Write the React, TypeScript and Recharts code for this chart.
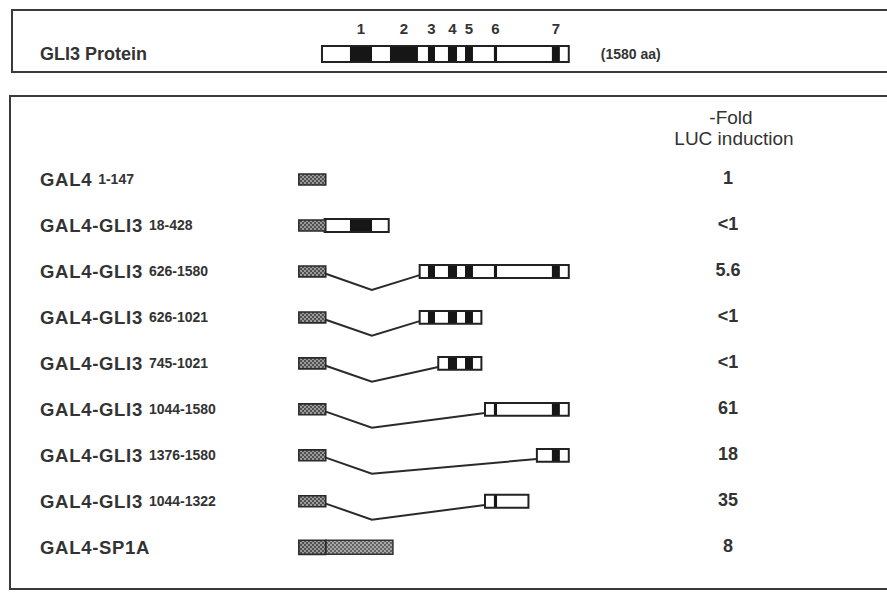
import React from "react";
import { ComposedChart, XAxis, YAxis, ReferenceArea, Line, Label, Scatter } from "recharts";

// GLI3 conserved domains (amino acids)
const domainNames = ["1", "2", "3", "4", "5", "6", "7"];
const domainStart = [180, 436, 679, 807, 916, 1101, 1472];
const domainEnd = [321, 615, 724, 865, 967, 1121, 1523];
const proteinLength = 1580;

// constructs, one per row
const constructNames = [
  "GAL4",
  "GAL4-GLI3",
  "GAL4-GLI3",
  "GAL4-GLI3",
  "GAL4-GLI3",
  "GAL4-GLI3",
  "GAL4-GLI3",
  "GAL4-GLI3",
  "GAL4-SP1A",
];
const constructRanges = ["1-147", "18-428", "626-1580", "626-1021", "745-1021", "1044-1580", "1376-1580", "1044-1322", ""];
const gliStart = [null, 18, 626, 626, 745, 1044, 1376, 1044, null];
const gliEnd = [null, 428, 1580, 1021, 1021, 1580, 1580, 1322, null];
const hasSp1 = [false, false, false, false, false, false, false, false, true];
const foldInduction = ["1", "<1", "5.6", "<1", "<1", "61", "18", "35", "8"];

// drawing units (same scale as GLI3 aa)
const GAL4_X = [-147, 25];
const SP1_END = 455;
const VERTEX_X = 320;
const X_DOMAIN = [-2059, 3616];
const Y_DOMAIN = [-3.905, 9.082];
const PROTEIN_ROW = -2.73;
const PROTEIN_H = 0.174;
const BOX_H = 0.14;

const W = 887;
const H = 597;
const ink = "#222";
const textCol = "#333";
const font = "'Liberation Sans', Arial, Helvetica, sans-serif";

const rows = constructNames.map((_, i) => i);
const labelPoints = rows.map((i) => ({ x: 0, y: i, row: i }));

const RowLabel = (props: any) => {
  const { cy, payload } = props;
  const i = payload.row;
  return (
    <g>
      <text x={40} y={cy} dy="0.36em" fontFamily={font} fontWeight="bold" fontSize={18.5} fill={textCol} letterSpacing={0.7}>
        {constructNames[i]}
        {constructRanges[i] && (
          <tspan dx={6} dy={-2} fontSize={14} letterSpacing={0}>
            {constructRanges[i]}
          </tspan>
        )}
      </text>
      <text x={728} y={cy - 2} dy="0.36em" textAnchor="middle" fontFamily={font} fontWeight="bold" fontSize={18} fill={textCol}>
        {foldInduction[i]}
      </text>
    </g>
  );
};

function domainBoxes(row: number, from: number, to: number, half: number, withLabels: boolean) {
  const out: any[] = [];
  domainNames.forEach((name, d) => {
    const s = Math.max(domainStart[d], from);
    const e = Math.min(domainEnd[d], to);
    if (e <= s) return;
    out.push(
      <ReferenceArea
        key={`d-${row}-${d}`}
        x1={s}
        x2={e}
        y1={row - half}
        y2={row + half}
        fill="#161616"
        fillOpacity={1}
        stroke="none"
        label={
          withLabels ? (
            <Label value={name} position="top" offset={12} fill={textCol} fontSize={15} fontWeight="bold" fontFamily={font} />
          ) : undefined
        }
      />
    );
  });
  return out;
}

export default function App() {
  const marks: any[] = [];

  // full-length protein
  marks.push(
    <ReferenceArea key="p-bg" x1={1} x2={proteinLength} y1={PROTEIN_ROW - PROTEIN_H} y2={PROTEIN_ROW + PROTEIN_H} fill="#fff" fillOpacity={1} stroke="none" />
  );
  marks.push(...domainBoxes(PROTEIN_ROW, 1, proteinLength, PROTEIN_H, true));
  marks.push(
    <ReferenceArea
      key="p-out"
      x1={1}
      x2={proteinLength}
      y1={PROTEIN_ROW - PROTEIN_H}
      y2={PROTEIN_ROW + PROTEIN_H}
      fill="none"
      fillOpacity={0}
      stroke={ink}
      strokeWidth={2}
      label={<Label value={`(${proteinLength} aa)`} position="right" offset={32} fill={textCol} fontSize={14} fontWeight="bold" fontFamily={font} />}
    />
  );

  const connectors: any[] = [];

  rows.forEach((i) => {
    const s = gliStart[i];
    const e = gliEnd[i];
    if (s != null && e != null) {
      marks.push(
        <ReferenceArea key={`g-bg-${i}`} x1={s} x2={e} y1={i - BOX_H} y2={i + BOX_H} fill="#fff" fillOpacity={1} stroke="none" />
      );
      marks.push(...domainBoxes(i, s, e, BOX_H, false));
      marks.push(
        <ReferenceArea key={`g-out-${i}`} x1={s} x2={e} y1={i - BOX_H} y2={i + BOX_H} fill="none" fillOpacity={0} stroke={ink} strokeWidth={2} />
      );
      if (s > GAL4_X[1] + 20) {
        const pts = [
          { x: GAL4_X[1], y: i + 0.05 },
          { x: VERTEX_X, y: i + 0.4 },
          { x: s, y: i + 0.08 },
        ];
        connectors.push(
          <Line key={`c-${i}`} data={pts} dataKey="y" type="linear" stroke="#2a2a2a" strokeWidth={2} dot={false} activeDot={false} isAnimationActive={false} />
        );
      }
    }
    if (hasSp1[i]) {
      marks.push(
        <ReferenceArea key={`sp-${i}`} x1={GAL4_X[1]} x2={SP1_END} y1={i - BOX_H * 1.1} y2={i + BOX_H * 1.1} fill="url(#hatchLight)" fillOpacity={1} stroke="#333" strokeWidth={1.5} />
      );
    }
    const gh = BOX_H * (hasSp1[i] ? 1.1 : 0.85);
    marks.push(
      <ReferenceArea key={`gal-${i}`} x1={GAL4_X[0]} x2={GAL4_X[1]} y1={i - gh} y2={i + gh} fill="url(#hatch)" fillOpacity={1} stroke="#2a2a2a" strokeWidth={1.6} />
    );
  });

  return (
    <div style={{ position: "absolute", left: 0, top: 0, width: W, height: H, background: "#fff" }}>
      <ComposedChart width={W} height={H} margin={{ top: 0, right: 0, bottom: 0, left: 0 }}>
        <defs>
          <pattern id="hatch" width="4" height="4" patternUnits="userSpaceOnUse">
            <rect width="4" height="4" fill="#9a9a9a" />
            <rect x="0" y="0" width="2" height="2" fill="#505050" />
            <rect x="2" y="2" width="2" height="2" fill="#505050" />
          </pattern>
          <pattern id="hatchLight" width="4" height="4" patternUnits="userSpaceOnUse">
            <rect width="4" height="4" fill="#a8a8a8" />
            <rect x="0" y="0" width="2" height="2" fill="#626262" />
            <rect x="2" y="2" width="2" height="2" fill="#626262" />
          </pattern>
        </defs>
        <rect x={12} y={10} width={W} height={62} fill="none" stroke="#3a3a3a" strokeWidth={2} />
        <rect x={10} y={96} width={W} height={493} fill="none" stroke="#3a3a3a" strokeWidth={2} />
        <text x={40} y={54} dy="0.36em" fontFamily={font} fontWeight="bold" fontSize={18} fill={textCol}>
          GLI3 Protein
        </text>
        <text x={731} y={117} dy="0.36em" textAnchor="middle" fontFamily={font} fontSize={19} fill={textCol}>
          -Fold
        </text>
        <text x={734} y={138} dy="0.36em" textAnchor="middle" fontFamily={font} fontSize={19} fill={textCol}>
          LUC induction
        </text>
        <XAxis type="number" dataKey="x" domain={X_DOMAIN} allowDataOverflow hide />
        <YAxis type="number" dataKey="y" domain={Y_DOMAIN} reversed allowDataOverflow hide />
        {connectors}
        {marks}
        <Scatter data={labelPoints} dataKey="y" shape={(p: any) => <RowLabel {...p} />} isAnimationActive={false} />
      </ComposedChart>
    </div>
  );
}
